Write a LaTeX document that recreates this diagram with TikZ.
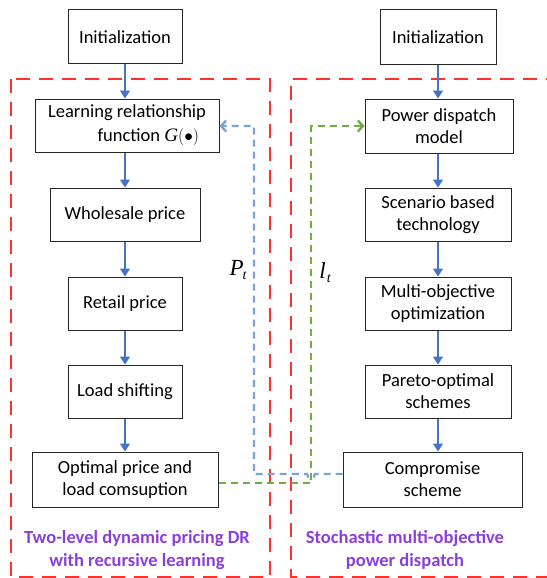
\documentclass[tikz,border=0pt]{standalone}
\usepackage{fontspec}
\setmainfont{Carlito}
\newfontfamily\tms{Liberation Serif}
\usetikzlibrary{arrows.meta}
\definecolor{fblue}{HTML}{4472C4}
\definecolor{dblue}{HTML}{7BA3D6}
\definecolor{dgreen}{HTML}{70AD47}
\definecolor{dred}{HTML}{FF3030}
\definecolor{fpurple}{HTML}{8B3FD9}
\tikzset{
  box/.style={draw=black!85, line width=1pt, align=center, font=\fontsize{18.5}{22}\selectfont, inner sep=0pt},
  flow/.style={draw=fblue, line width=1.2pt, -{Triangle[length=8pt,width=10pt]}},
  fb/.style={draw=dblue, line width=2.4pt, dash pattern=on 7pt off 5pt},
  fg/.style={draw=dgreen, line width=2.4pt, dash pattern=on 7pt off 5pt},
  region/.style={draw=dred, line width=1.2pt, dash pattern=on 14pt off 9pt},
  captxt/.style={text=fpurple, font=\bfseries\fontsize{18.5}{23}\selectfont, align=center},
}
\begin{document}
\begin{tikzpicture}[x=1pt,y=-1pt]
\useasboundingbox (0,0) rectangle (546,578);
% regions
\draw[region] (11,79) rectangle (270,577);
\draw[region] (560,79) -- (291,79) -- (291,577) -- (560,577);
% left column
\node[box, minimum width=114pt, minimum height=54pt] (li) at (125,37) {Initialization};
\node[box, minimum width=184pt, minimum height=53pt] (ll) at (127,125.5) {Learning relationship\\[2pt]\hspace*{2.3em}function {\tms\itshape\fontsize{19}{19}\selectfont G}{\fontsize{18.5}{19}\selectfont$(\bullet)$}};
\node[box, minimum width=150pt, minimum height=53pt] (lw) at (125,214.5) {Wholesale price};
\node[box, minimum width=114pt, minimum height=53pt] (lr) at (125,303.5) {Retail price};
\node[box, minimum width=114pt, minimum height=53pt] (ls) at (125,391.5) {Load shifting};
\node[box, minimum width=186pt, minimum height=55pt] (lo) at (125,479.5) {Optimal price and\\load comsuption};
% right column
\node[box, minimum width=116pt, minimum height=55pt] (ri) at (438,37.5) {Initialization};
\node[box, minimum width=148pt, minimum height=54pt] (rp) at (439,126) {Power dispatch\\model};
\node[box, minimum width=146pt, minimum height=53pt] (rs) at (438,214.5) {Scenario based\\technology};
\node[box, minimum width=146pt, minimum height=53pt] (rm) at (438,303.5) {Multi-objective\\optimization};
\node[box, minimum width=146pt, minimum height=53pt] (ra) at (438,391.5) {Pareto-optimal\\schemes};
\node[box, minimum width=179pt, minimum height=55pt] (rc) at (432.5,479.5) {Compromise\\scheme};
% flow arrows
\draw[flow] (li) -- (li |- ll.north);
\draw[flow] (lw |- ll.south) -- (lw);
\draw[flow] (lw) -- (lr);
\draw[flow] (lr) -- (ls);
\draw[flow] (ls) -- (lo);
\draw[flow] (ri) -- (ri |- rp.north);
\draw[flow] (ri |- rp.south) -- (ri |- rs.north);
\draw[flow] (rs) -- (rm);
\draw[flow] (rm) -- (ra);
\draw[flow] (ra) -- (ra |- rc.north);
% feedback
\coordinate (b1) at (254,474);
\coordinate (b2) at (254,126);
\coordinate (g1) at (311,483);
\coordinate (g2) at (311,126);
\draw[fb, -{Straight Barb[length=5pt,width=11pt]}] (rc.west |- 0,474) -- (315,474) arc (0:180:4) -- (b1) -- (b2) -- (ll.east |- b2);
\draw[fg, -{Straight Barb[length=5pt,width=11pt]}] (lo.east |- g1) -- (g1) -- (g2) -- (rp.west |- g2);
% labels
\node[font=\tms\itshape\fontsize{23}{23}\selectfont] (pt) at (238,270) {P\kern-1pt\raisebox{-4pt}{\fontsize{14}{14}\selectfont t}};
\node[font=\tms\itshape\fontsize{23}{23}\selectfont] (lt) at (325,273) {l\kern1pt\raisebox{-4pt}{\fontsize{14}{14}\selectfont t}};
\node[captxt] (c1) at (137,550) {Two-level dynamic pricing DR\\with recursive learning};
\node[captxt] (c2) at (405,550) {Stochastic multi-objective\\power dispatch};
\end{tikzpicture}
\end{document}
